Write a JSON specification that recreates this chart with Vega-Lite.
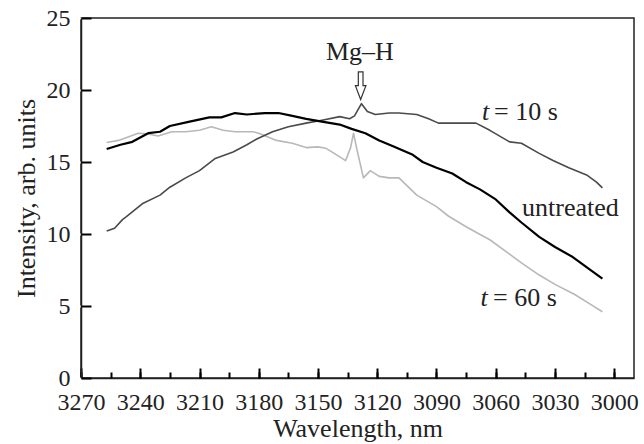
{
  "$schema": "https://vega.github.io/schema/vega-lite/v6.json",
  "width": 553,
  "height": 360,
  "autosize": "none",
  "padding": {"left": 81, "top": 18, "right": 10, "bottom": 66},
  "background": "white",
  "config": {
    "view": {"stroke": "#222222", "strokeWidth": 1.5},
    "font": "Liberation Serif"
  },
  "datasets": {
    "spectra": [
      {"series": "untreated", "wl": 3257, "v": 15.9},
      {"series": "untreated", "wl": 3250, "v": 16.2},
      {"series": "untreated", "wl": 3244, "v": 16.4},
      {"series": "untreated", "wl": 3236, "v": 17.0},
      {"series": "untreated", "wl": 3230, "v": 17.1},
      {"series": "untreated", "wl": 3225, "v": 17.5},
      {"series": "untreated", "wl": 3215, "v": 17.8},
      {"series": "untreated", "wl": 3205, "v": 18.1},
      {"series": "untreated", "wl": 3199, "v": 18.1},
      {"series": "untreated", "wl": 3192, "v": 18.4},
      {"series": "untreated", "wl": 3186, "v": 18.3},
      {"series": "untreated", "wl": 3177, "v": 18.4},
      {"series": "untreated", "wl": 3170, "v": 18.4},
      {"series": "untreated", "wl": 3163, "v": 18.2},
      {"series": "untreated", "wl": 3156, "v": 18.0},
      {"series": "untreated", "wl": 3148, "v": 17.8},
      {"series": "untreated", "wl": 3139, "v": 17.6},
      {"series": "untreated", "wl": 3133, "v": 17.3},
      {"series": "untreated", "wl": 3126, "v": 17.0},
      {"series": "untreated", "wl": 3119, "v": 16.5},
      {"series": "untreated", "wl": 3112, "v": 16.1},
      {"series": "untreated", "wl": 3102, "v": 15.5},
      {"series": "untreated", "wl": 3097, "v": 15.0},
      {"series": "untreated", "wl": 3090, "v": 14.6},
      {"series": "untreated", "wl": 3082, "v": 14.2},
      {"series": "untreated", "wl": 3075, "v": 13.6},
      {"series": "untreated", "wl": 3068, "v": 13.1},
      {"series": "untreated", "wl": 3060, "v": 12.4},
      {"series": "untreated", "wl": 3053, "v": 11.5},
      {"series": "untreated", "wl": 3047, "v": 10.8},
      {"series": "untreated", "wl": 3038, "v": 9.8},
      {"series": "untreated", "wl": 3030, "v": 9.1},
      {"series": "untreated", "wl": 3021, "v": 8.4},
      {"series": "untreated", "wl": 3013, "v": 7.6},
      {"series": "untreated", "wl": 3006, "v": 6.9},

      {"series": "t10", "wl": 3257, "v": 10.2},
      {"series": "t10", "wl": 3253, "v": 10.4},
      {"series": "t10", "wl": 3249, "v": 11.0},
      {"series": "t10", "wl": 3247, "v": 11.2},
      {"series": "t10", "wl": 3239, "v": 12.1},
      {"series": "t10", "wl": 3230, "v": 12.7},
      {"series": "t10", "wl": 3225, "v": 13.25},
      {"series": "t10", "wl": 3217, "v": 13.9},
      {"series": "t10", "wl": 3210, "v": 14.4},
      {"series": "t10", "wl": 3202, "v": 15.25},
      {"series": "t10", "wl": 3193, "v": 15.7},
      {"series": "t10", "wl": 3186, "v": 16.2},
      {"series": "t10", "wl": 3181, "v": 16.6},
      {"series": "t10", "wl": 3173, "v": 17.1},
      {"series": "t10", "wl": 3165, "v": 17.45},
      {"series": "t10", "wl": 3156, "v": 17.7},
      {"series": "t10", "wl": 3148, "v": 17.9},
      {"series": "t10", "wl": 3139, "v": 18.15},
      {"series": "t10", "wl": 3134, "v": 18.0},
      {"series": "t10", "wl": 3131.5, "v": 18.2},
      {"series": "t10", "wl": 3128, "v": 19.05},
      {"series": "t10", "wl": 3125, "v": 18.5},
      {"series": "t10", "wl": 3121, "v": 18.3},
      {"series": "t10", "wl": 3114, "v": 18.4},
      {"series": "t10", "wl": 3109, "v": 18.4},
      {"series": "t10", "wl": 3100, "v": 18.3},
      {"series": "t10", "wl": 3094, "v": 18.0},
      {"series": "t10", "wl": 3089, "v": 17.7},
      {"series": "t10", "wl": 3080, "v": 17.7},
      {"series": "t10", "wl": 3070, "v": 17.7},
      {"series": "t10", "wl": 3063, "v": 17.2},
      {"series": "t10", "wl": 3053, "v": 16.4},
      {"series": "t10", "wl": 3047, "v": 16.3},
      {"series": "t10", "wl": 3038, "v": 15.6},
      {"series": "t10", "wl": 3031, "v": 15.1},
      {"series": "t10", "wl": 3023, "v": 14.6},
      {"series": "t10", "wl": 3014, "v": 14.1},
      {"series": "t10", "wl": 3009, "v": 13.6},
      {"series": "t10", "wl": 3006, "v": 13.2},

      {"series": "t60", "wl": 3257, "v": 16.35},
      {"series": "t60", "wl": 3251, "v": 16.5},
      {"series": "t60", "wl": 3241, "v": 17.0},
      {"series": "t60", "wl": 3236, "v": 16.95},
      {"series": "t60", "wl": 3231, "v": 16.8},
      {"series": "t60", "wl": 3224, "v": 17.1},
      {"series": "t60", "wl": 3217, "v": 17.1},
      {"series": "t60", "wl": 3210, "v": 17.2},
      {"series": "t60", "wl": 3204, "v": 17.45},
      {"series": "t60", "wl": 3198, "v": 17.2},
      {"series": "t60", "wl": 3192, "v": 17.1},
      {"series": "t60", "wl": 3183, "v": 17.1},
      {"series": "t60", "wl": 3180, "v": 17.0},
      {"series": "t60", "wl": 3171, "v": 16.5},
      {"series": "t60", "wl": 3163, "v": 16.3},
      {"series": "t60", "wl": 3156, "v": 16.0},
      {"series": "t60", "wl": 3150, "v": 16.05},
      {"series": "t60", "wl": 3146, "v": 15.95},
      {"series": "t60", "wl": 3143, "v": 15.7},
      {"series": "t60", "wl": 3136, "v": 15.1},
      {"series": "t60", "wl": 3133.5, "v": 16.0},
      {"series": "t60", "wl": 3132, "v": 17.0},
      {"series": "t60", "wl": 3130.5, "v": 16.0},
      {"series": "t60", "wl": 3129, "v": 15.1},
      {"series": "t60", "wl": 3127, "v": 13.9},
      {"series": "t60", "wl": 3123.5, "v": 14.4},
      {"series": "t60", "wl": 3119, "v": 14.0},
      {"series": "t60", "wl": 3114, "v": 13.9},
      {"series": "t60", "wl": 3109, "v": 13.9},
      {"series": "t60", "wl": 3106, "v": 13.5},
      {"series": "t60", "wl": 3100, "v": 12.7},
      {"series": "t60", "wl": 3090, "v": 11.9},
      {"series": "t60", "wl": 3084, "v": 11.25},
      {"series": "t60", "wl": 3075, "v": 10.5},
      {"series": "t60", "wl": 3067, "v": 9.9},
      {"series": "t60", "wl": 3063, "v": 9.6},
      {"series": "t60", "wl": 3053, "v": 8.6},
      {"series": "t60", "wl": 3047, "v": 8.0},
      {"series": "t60", "wl": 3038, "v": 7.15},
      {"series": "t60", "wl": 3030, "v": 6.5},
      {"series": "t60", "wl": 3020, "v": 5.8},
      {"series": "t60", "wl": 3013, "v": 5.2},
      {"series": "t60", "wl": 3006, "v": 4.6}
    ],
    "labels": [
      {"wl": 3146.0, "v": 22.08, "text": "Mg–H"},
      {"wl": 3060.9, "v": 17.92, "text": "= 10 s"},
      {"wl": 3046.7, "v": 11.25, "text": "untreated"},
      {"wl": 3061.4, "v": 5.0, "text": "= 60 s"}
    ],
    "italic": [
      {"wl": 3067.0, "v": 17.92, "text": "t"},
      {"wl": 3067.7, "v": 5.0, "text": "t"}
    ],
    "arrow": [
      {"wl": 3128.4, "v": 20.3}
    ]
  },
  "layer": [
    {
      "encoding": {
        "x": {
          "field": "wl",
          "type": "quantitative",
          "scale": {"domain": [2990, 3270], "reverse": true, "nice": false, "zero": false},
          "axis": {
            "title": "Wavelength, nm",
            "values": [3270, 3240, 3210, 3180, 3150, 3120, 3090, 3060, 3030, 3000],
            "format": "d",
            "tickSize": 6,
            "tickColor": "white",
            "tickWidth": 2,
            "labelPadding": 6,
            "labelFlush": false,
            "labelOverlap": false,
            "grid": false,
            "domainColor": "#222222",
            "domainWidth": 1.5,
            "labelFont": "Liberation Serif",
            "labelFontSize": 24,
            "labelColor": "#222222",
            "titleFont": "Liberation Serif",
            "titleFontSize": 26,
            "titleFontWeight": "normal",
            "titleColor": "#222222",
            "titlePadding": 1
          }
        },
        "y": {
          "field": "v",
          "type": "quantitative",
          "scale": {"domain": [0, 25], "nice": false},
          "axis": {
            "title": "Intensity, arb. units",
            "values": [0, 5, 10, 15, 20, 25],
            "tickSize": 6,
            "tickColor": "white",
            "tickWidth": 2,
            "labelPadding": 5,
            "labelOverlap": false,
            "grid": false,
            "domainColor": "#222222",
            "domainWidth": 1.5,
            "labelFont": "Liberation Serif",
            "labelFontSize": 24,
            "labelColor": "#222222",
            "titleFont": "Liberation Serif",
            "titleFontSize": 26,
            "titleFontWeight": "normal",
            "titleColor": "#222222",
            "titlePadding": 7
          }
        }
      },
      "layer": [
        {
          "data": {"name": "spectra"},
          "transform": [{"filter": "datum.series === 't60'"}],
          "mark": {"type": "line", "color": "#b8b8b8", "strokeWidth": 1.6, "strokeJoin": "round"}
        },
        {
          "data": {"name": "spectra"},
          "transform": [{"filter": "datum.series === 't10'"}],
          "mark": {"type": "line", "color": "#4a4a4a", "strokeWidth": 1.6, "strokeJoin": "round"}
        },
        {
          "data": {"name": "spectra"},
          "transform": [{"filter": "datum.series === 'untreated'"}],
          "mark": {"type": "line", "color": "#000000", "strokeWidth": 2.2, "strokeJoin": "round"}
        },
        {
          "data": {"name": "labels"},
          "mark": {"type": "text", "align": "left", "baseline": "alphabetic", "font": "Liberation Serif", "fontSize": 26, "color": "#222222"},
          "encoding": {"text": {"field": "text"}}
        }
      ]
    },
    {
      "data": {"name": "arrow"},
      "mark": {"type": "point", "shape": "M-0.17,-1 L0.17,-1 L0.17,0 L0.38,0 L0,1 L-0.38,0 L-0.17,0 Z", "size": 762, "filled": true, "fill": "white", "stroke": "#333333", "strokeWidth": 1.2, "opacity": 1},
      "encoding": {
        "x": {
          "field": "wl",
          "type": "quantitative",
          "scale": {"domain": [2990, 3270], "reverse": true, "nice": false, "zero": false},
          "axis": {
            "orient": "top",
            "offset": -360,
            "title": null,
            "labels": false,
            "domain": false,
            "grid": false,
            "values": [3270, 3255, 3240, 3225, 3210, 3195, 3180, 3165, 3150, 3135, 3120, 3105, 3090, 3075, 3060, 3045, 3030, 3015, 3000],
            "tickSize": 6,
            "tickColor": "black",
            "tickWidth": 2
          }
        },
        "y": {
          "field": "v",
          "type": "quantitative",
          "scale": {"domain": [0, 25], "nice": false},
          "axis": {
            "orient": "right",
            "offset": -553,
            "title": null,
            "labels": false,
            "domain": false,
            "grid": false,
            "values": [0, 5, 10, 15, 20, 25],
            "tickSize": 10,
            "tickColor": "black",
            "tickWidth": 2
          }
        }
      }
    },
    {
      "data": {"name": "italic"},
      "mark": {"type": "text", "align": "left", "baseline": "alphabetic", "font": "Liberation Serif", "fontStyle": "italic", "fontSize": 26, "color": "#222222"},
      "encoding": {
        "text": {"field": "text"},
        "x": {
          "field": "wl",
          "type": "quantitative",
          "scale": {"domain": [2990, 3270], "reverse": true, "nice": false, "zero": false},
          "axis": {
            "orient": "top",
            "offset": -360,
            "title": null,
            "labels": false,
            "domain": false,
            "grid": false,
            "values": [3270, 3240, 3210, 3180, 3150, 3120, 3090, 3060, 3030, 3000],
            "tickSize": 10,
            "tickColor": "black",
            "tickWidth": 2
          }
        },
        "y": {
          "field": "v",
          "type": "quantitative",
          "scale": {"domain": [0, 25], "nice": false},
          "axis": null
        }
      }
    }
  ],
  "resolve": {"axis": {"x": "independent", "y": "independent"}}
}
